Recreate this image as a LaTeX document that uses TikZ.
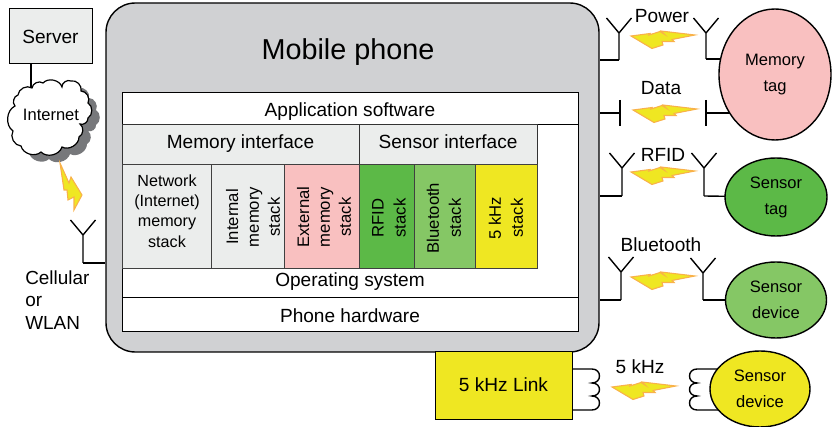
\documentclass[tikz,border=0pt]{standalone}
\usepackage{fontspec}
\setmainfont{Liberation Sans}
\usetikzlibrary{calc,shapes.geometric}
\definecolor{phonegray}{HTML}{D0D1D3}
\definecolor{panelgray}{HTML}{EBEDEC}
\definecolor{tagpink}{HTML}{F9C0C0}
\definecolor{taggreen}{HTML}{5CB947}
\definecolor{devgreen}{HTML}{85C765}
\definecolor{linkyellow}{HTML}{EFE722}
\definecolor{boltorange}{HTML}{F9B14A}
\definecolor{shadowgray}{HTML}{77787B}
\pgfdeclarelayer{back}
\pgfsetlayers{back,main}
\tikzset{
  x=0.75pt,y=-0.75pt,
  wire/.style={draw=black,line width=1.05pt},
  layerbox/.style={draw=black,line width=0.75pt,fill=white,anchor=center,font=\fontsize{14.3}{17}\selectfont,inner sep=0pt,align=center,text height=14pt,text depth=3pt},
  ifacebox/.style={layerbox,fill=panelgray,draw=black!80,text height=8.6pt},
  stackbox/.style={draw=black!75,line width=0.75pt,anchor=center,inner sep=0pt},
  lab/.style={font=\fontsize{14.3}{17}\selectfont,inner sep=0pt,align=center},
  tag/.style={draw=black,line width=1.05pt,ellipse,inner sep=0pt,font=\fontsize{12.4}{19.5}\selectfont,align=center},
  boltstyle/.style={fill=linkyellow,draw=boltorange,line width=0.8pt,line join=miter},
  rotlab/.style={rotate=90,inner sep=0pt,align=center,font=\fontsize{12.5}{15.6}\selectfont},
  rotlabw/.style={rotate=90,inner sep=0pt,align=center,font=\fontsize{12.5}{16.5}\selectfont},
  bump/.style={bend left=60},
}
% box from pixel corners: name, x0,y0,x1,y1, style, text
\newcommand{\pbox}[7]{%
  \node[#6,minimum width={(#4-#2)*0.75pt},minimum height={(#5-#3)*0.75pt}] (#1) at ({(#2+#4)/2},{(#3+#5)/2}) {#7};}
\newcommand{\antennaY}[4]{% name, x, ytop, ybase
  \coordinate (#1) at (#2,#4);
  \draw[wire] (#1) -- (#2,#3+15) -- (#2-12.5,#3) (#2,#3+15) -- (#2+12.5,#3);}
\newcommand{\plate}[3]{% name, x, y
  \coordinate (#1) at (#2,#3);
  \draw[wire] (#2,#3-13) -- (#2,#3+13);}
\newcommand{\hbolt}[2]{% left tip x,y
  \path[boltstyle,shift={(#1,#2)}] (0,0) -- (19,-2.5) -- (18,-1) -- (29,-4.5) -- (33,-2) -- (30,-5) -- (64,-1)
    -- (41,3.5) -- (43,5.5) -- (31,5.5) -- (32,9) -- (21,12.5) -- cycle;}
\newcommand{\cloudpath}{(15,106) to[bump] (18,95) to[bump] (32,88) to[bump] (43,83) to[bump] (62,87) to[bump] (71,81) to[bump] (81,91) to[bump] (88,103) to[bump] (88,118) to[bump] (80,124) to[bump] (79,137) to[bump] (62,147) to[bump] (41,152) to[bump] (21,146) to[bump] (13,131) to[bump] cycle}
\begin{document}
\begin{tikzpicture}
\useasboundingbox (0,0) rectangle (833,427);
% phone
\node[draw=black,line width=1.05pt,fill=phonegray,rounded corners=22pt,minimum width={493*0.75pt},minimum height={349*0.75pt},inner sep=0pt] (phone) at (352.5,177.5) {};
\node[font=\fontsize{21.6}{25}\selectfont,inner sep=0pt] (title) at (348,52) {Mobile phone};
% layers
\pbox{base}{122}{125}{578}{298}{layerbox}{}
\pbox{app}{122}{93}{578}{125}{layerbox}{Application software}
\pbox{hw}{122}{298}{578}{332}{layerbox}{Phone hardware}
\pbox{memif}{122}{125}{359}{165}{ifacebox}{Memory  interface}
\pbox{senif}{359}{125}{537}{165}{ifacebox}{Sensor interface}
\pbox{netst}{122}{165}{211}{269}{stackbox,fill=panelgray}{}
\pbox{intst}{211}{165}{284}{269}{stackbox,fill=panelgray}{}
\pbox{extst}{284}{165}{359}{269}{stackbox,fill=tagpink}{}
\pbox{rfidst}{359}{165}{414}{269}{stackbox,fill=taggreen}{}
\pbox{btst}{414}{165}{475}{269}{stackbox,fill=devgreen}{}
\pbox{khzst}{475}{165}{537}{269}{stackbox,fill=linkyellow}{}
\node[lab,font=\fontsize{12.1}{15.3}\selectfont] (nettxt) at (167,211) {Network\\(Internet)\\memory\\stack};
\node[lab] (ostxt) at (350,282) {Operating system};
\node[rotlab] (inttxt) at (253,217) {Internal\\memory\\stack};
\node[rotlab] (exttxt) at (324,217) {External\\memory\\stack};
\node[rotlabw] (rfidtxt) at (389,218) {RFID\\stack};
\node[rotlabw] (bttxt) at (444,218) {Bluetooth\\stack};
\node[rotlabw] (khztxt) at (506,218) {5 kHz\\stack};
% server and cloud
\pbox{server}{9}{9}{92}{64}{layerbox,fill=panelgray}{Server}
\path[fill=shadowgray,shift={(8,7)}] \cloudpath;
\draw[fill=white,line width=0.9pt] \cloudpath;
\node[lab,font=\fontsize{12.4}{14}\selectfont] (net) at (51,115) {Internet};
\coordinate (cloudtop) at (31,88);
\draw[wire] (server.south -| cloudtop) -- (cloudtop);
\path[boltstyle] (60,163) -- (69,183) -- (71,177) -- (82,195) -- (74,210) -- (74,197) -- (68,200) -- (67,190) -- (64,190) -- cycle;
\antennaY{antL}{83}{220}{263}
\draw[wire] (antL) -- (antL -| phone.west);
\node[lab,anchor=west,align=left,font=\fontsize{14.2}{17}\selectfont] (cell) at (25,300) {Cellular\\or\\WLAN};
% right side
\node[tag,fill=tagpink,minimum width={112*0.75pt},minimum height={131*0.75pt}] (mem) at (775,74.5) {Memory\\tag};
\node[tag,fill=taggreen,minimum width={102*0.75pt},minimum height={78*0.75pt}] (stag) at (776,197) {Sensor\\tag};
\node[tag,fill=devgreen,minimum width={101*0.75pt},minimum height={76*0.75pt}] (sdev) at (776,300) {Sensor\\device};
\node[tag,fill=linkyellow,minimum width={100*0.75pt},minimum height={76*0.75pt}] (ydev) at (760,389) {Sensor\\device};
\node[layerbox,fill=linkyellow,minimum width={137*0.75pt},minimum height={68*0.75pt},text height=11pt] (link) at (503.5,386) {5 kHz Link};
% antennas
\antennaY{a1}{619}{18}{60}
\antennaY{a2}{706}{18}{59}
\antennaY{a3}{622}{153}{196}
\antennaY{a4}{704}{153}{196}
\antennaY{a5}{621}{257}{300}
\antennaY{a6}{703}{258}{300}
\plate{p1}{620}{113}
\plate{p2}{706}{113}
\begin{pgfonlayer}{back}
\draw[wire] (a1) -- (a1 -| phone.east);
\draw[wire] (a3) -- (a3 -| phone.east);
\draw[wire] (a5) -- (a5 -| phone.east);
\draw[wire] (p1) -- (p1 -| phone.east);
\draw[wire] (a2) -- (a2 -| mem.center);
\draw[wire] (a4) -- (stag.center);
\draw[wire] (a6) -- (sdev.center);
\draw[wire] (p2) -- (p2 -| mem.center);
\draw[wire] (link.center |- 0,369) -- (592,369) .. controls (602,369) and (602,383) .. (592,383) .. controls (602,383) and (602,396) .. (592,396) .. controls (602,396) and (602,410) .. (592,410) -- (link.center |- 0,410);
\draw[wire] (ydev.center |- 0,369) -- (697,369) .. controls (687,369) and (687,383) .. (697,383) .. controls (687,383) and (687,396) .. (697,396) .. controls (687,396) and (687,410) .. (697,410) -- (ydev.center |- 0,410);
\end{pgfonlayer}
% bolts
\hbolt{631}{36}
\hbolt{633}{110}
\hbolt{631}{172}
\hbolt{631}{277}
\hbolt{612}{387}
% labels
\node[lab] (l1) at (662,16) {Power};
\node[lab] (l2) at (661,88) {Data};
\node[lab] (l3) at (663,155) {RFID};
\node[lab] (l4) at (661,245) {Bluetooth};
\node[lab] (l5) at (640,367) {5 kHz};
\end{tikzpicture}
\end{document}
